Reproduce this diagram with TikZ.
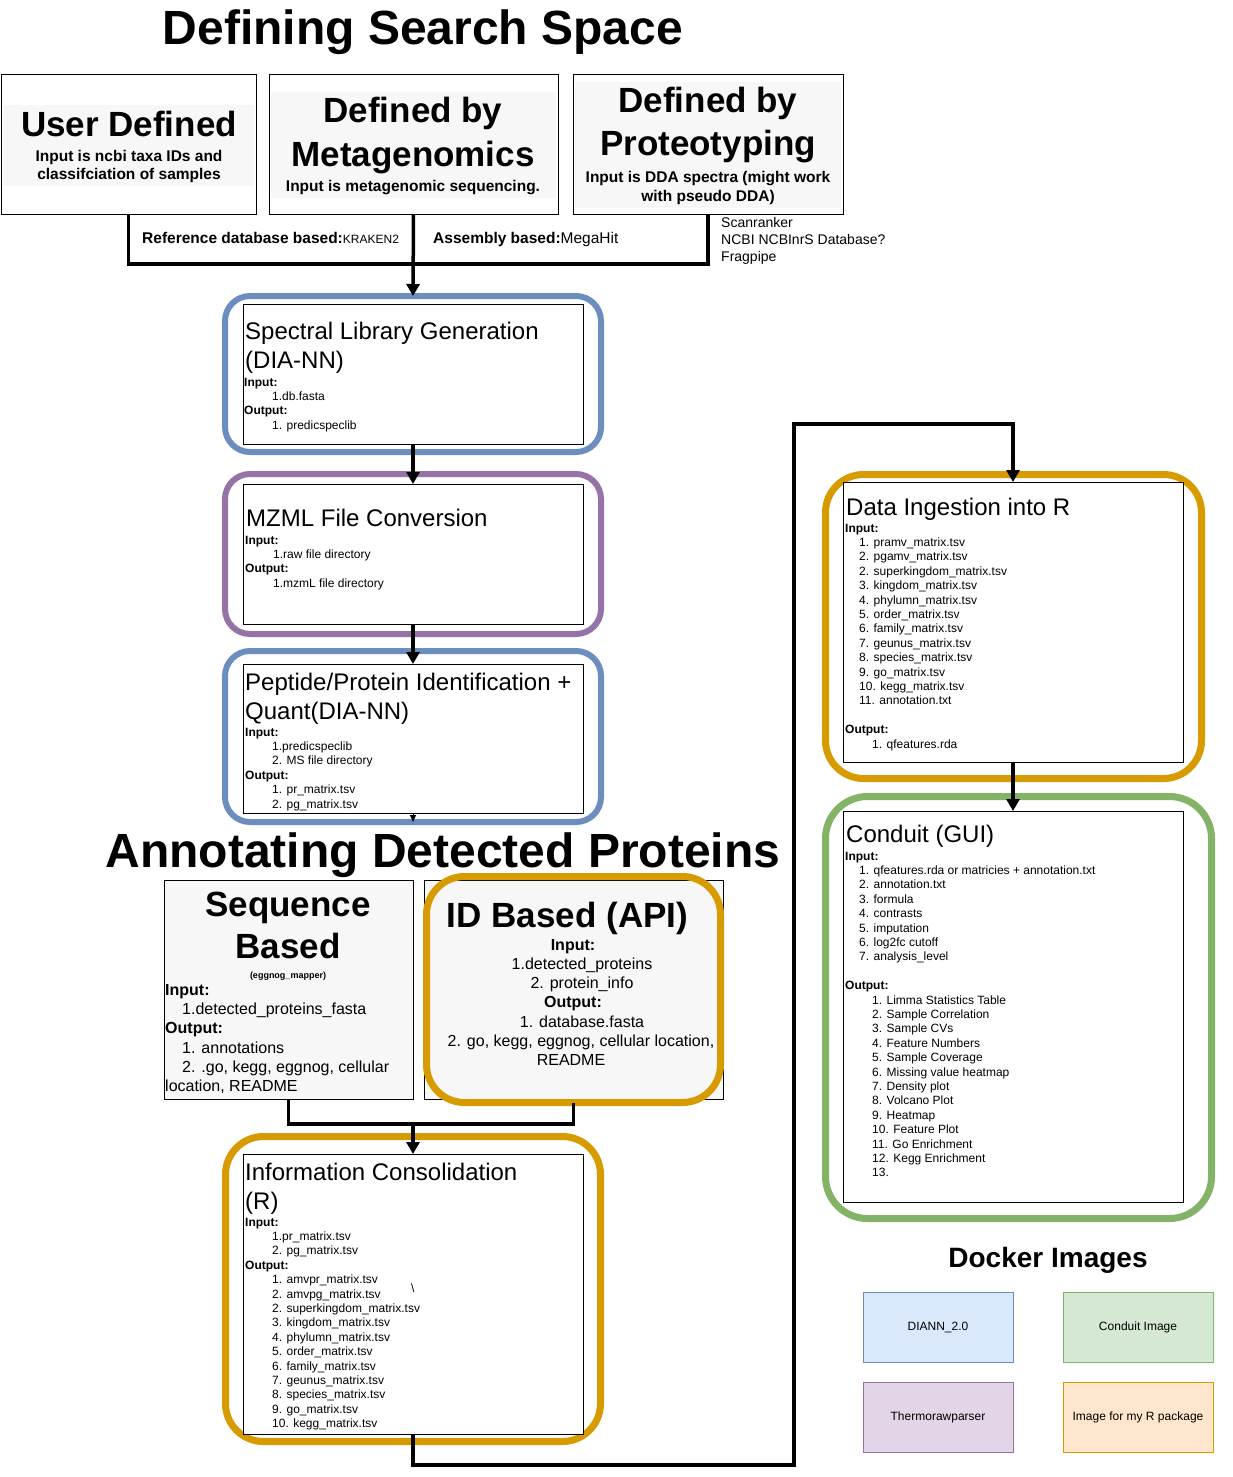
\documentclass[tikz,border=0pt]{standalone}
\usepackage{fontspec}
\setmainfont{Liberation Sans}
\usetikzlibrary{arrows.meta}
\definecolor{cblue}{HTML}{6C8EBF}
\definecolor{cpurple}{HTML}{9673A6}
\definecolor{corange}{HTML}{D79B00}
\definecolor{cgreen}{HTML}{82B366}
\definecolor{fblue}{HTML}{DAE8FC}
\definecolor{fgreen}{HTML}{D5E8D4}
\definecolor{fpurple}{HTML}{E1D5E7}
\definecolor{forange}{HTML}{FFE6CC}
\definecolor{lgray}{HTML}{F7F7F7}
\newcommand\fs[1]{\fontsize{#1}{#1}\selectfont}
% rectangle node from corner coordinates (y positive downwards)
\newcommand\rbox[6]{%
 \pgfmathsetmacro\rw{#5-#3}\pgfmathsetmacro\rh{#6-#4}%
 \pgfmathsetmacro\rcx{(#3+#5)/2}\pgfmathsetmacro\rcy{-(#4+#6)/2}%
 \node[#2, minimum width=\rw pt, minimum height=\rh pt, inner sep=0pt, outer sep=0pt] (#1) at (\rcx,\rcy) {};}
% left aligned lines: name, x, first baseline, step, size, list
\newcommand\tlines[6]{\foreach \myl [count=\ii from 0] in {#6} {\node[anchor=base west, inner sep=0pt, font=\fs{#5}] (#1\ii) at (#2,{-(#3+\ii*#4)}) {\myl};}}
\begin{document}
\begin{tikzpicture}[x=1pt,y=1pt,
  conn/.style={line width=3.5pt, line join=miter},
  arr/.style={conn, -{Triangle[width=13pt,length=12pt]}},
  thinarr/.style={line width=0.8pt, -{Triangle[width=6pt,length=7pt]}},
  thinbox/.style={draw=black, line width=0.8pt, fill=white},
  graybox/.style={draw=black, line width=0.8pt, fill=lgray},
  bigtitle/.style={anchor=base, inner sep=0pt, font=\fs{48}\bfseries},
  hdr/.style={anchor=base, inner sep=0pt, font=\fs{35}\bfseries},
  sub/.style={anchor=base, inner sep=0pt, font=\fs{15.5}\bfseries},
  ttl/.style={anchor=base west, inner sep=0pt, font=\fs{24}},
  note/.style={anchor=base west, inner sep=0pt, font=\fs{14}},
  dock/.style={line width=1pt},
  dtext/.style={font=\fs{12}}
]
\useasboundingbox (0,0) rectangle (1233,-1477);
\fill[white] (0,0) rectangle (1233,-1477);

% ---------------- Defining search space ----------------
\node[bigtitle] (title1) at (423,-45) {Defining Search Space};

\rbox{user}{thinbox}{1}{74}{256}{214}
\rbox{userbg}{fill=lgray}{3}{105}{254}{186}
\node[hdr] (userh) at (129,-136) {User Defined};
\node[sub] (users1) at (129,-161.5) {Input is ncbi taxa IDs and};
\node[sub] (users2) at (129,-179.5) {classifciation of samples};

\rbox{meta}{thinbox}{269}{74}{558}{214}
\rbox{metabg}{fill=lgray}{271}{92}{556}{198}
\node[hdr] (metah1) at (413,-123) {Defined by};
\node[hdr] (metah2) at (413,-166) {Metagenomics};
\node[sub] (metas) at (413,-191.5) {Input is metagenomic sequencing.};

\rbox{proto}{thinbox}{573}{74}{843}{214}
\rbox{protobg}{fill=lgray}{575}{82}{841}{208}
\node[hdr] (protoh1) at (708,-113) {Defined by};
\node[hdr] (protoh2) at (708,-155) {Proteotyping};
\node[sub] (protos1) at (708,-182.5) {Input is DDA spectra (might work};
\node[sub] (protos2) at (708,-201.5) {with pseudo DDA)};

\node[note] (n1) at (721,-227) {Scanranker};
\node[note] (n2) at (721,-244) {NCBI NCBInrS Database?};
\node[note] (n3) at (721,-261) {Fragpipe};

\node[anchor=base west, inner sep=0pt, font=\fs{15.5}\bfseries] (lab1) at (142,-243.5) {Reference database based:{\mdseries\fs{12}KRAKEN2}};
\node[anchor=base west, inner sep=0pt, font=\fs{15.5}\bfseries] (lab2) at (433,-243.5) {Assembly based:{\mdseries MegaHit}};

% ---------------- Spectral library ----------------
\rbox{slibo}{draw=cblue, line width=6pt, rounded corners=25pt}{225}{296}{601}{452}
\rbox{slib}{thinbox}{243}{304}{583}{444}
\tlines{slibt}{245}{339.5}{28.5}{24}{Spectral Library Generation,(DIA-NN)}
\tlines{slibl}{244}{386}{14.4}{12}{\textbf{Input:},\hspace*{28pt}1.db.fasta,\textbf{Output:},\hspace*{28pt}1. predicspeclib}

% ---------------- MZML ----------------
\rbox{mzmlo}{draw=cpurple, line width=6pt, rounded corners=25pt}{225}{474}{601}{634}
\rbox{mzml}{thinbox}{243}{484}{583}{624}
\tlines{mzmlt}{246}{526.5}{28.5}{24}{MZML File Conversion}
\tlines{mzmll}{245}{544}{14.4}{12}{\textbf{Input:},\hspace*{28pt}1.raw file directory,\textbf{Output:},\hspace*{28pt}1.mzmL file directory}

% ---------------- Peptide ----------------
\rbox{pepo}{draw=cblue, line width=6pt, rounded corners=25pt}{225}{651}{601}{822}
\rbox{pep}{thinbox}{243}{664}{583}{813}
\tlines{pept}{245}{690.5}{28.5}{24}{Peptide/Protein Identification +,Quant(DIA-NN)}
\tlines{pepl}{245}{736}{14.4}{12}{\textbf{Input:},\hspace*{27pt}1.predicspeclib,\hspace*{27pt}2. MS file directory,\textbf{Output:},\hspace*{27pt}1. pr\_matrix.tsv,\hspace*{27pt}2. pg\_matrix.tsv}

% ---------------- Annotating ----------------
\node[bigtitle] (title2) at (443,-867) {Annotating Detected Proteins};

\rbox{seq}{graybox}{164}{880}{413}{1099}
\node[hdr] (seqh1) at (288,-916) {Sequence};
\node[hdr] (seqh2) at (288,-958) {Based};
\node[anchor=base, inner sep=0pt, font=\fs{9}\bfseries] (seqs) at (288,-978) {(eggnog\_mapper)};
\tlines{seql}{165}{995.5}{19.2}{16}{\textbf{Input:},\hspace*{17pt}1.detected\_proteins\_fasta,\textbf{Output:},\hspace*{17pt}1. annotations,{\hspace*{17pt}2. .go, kegg, eggnog, cellular},{location, README}}

\rbox{idb}{graybox}{424}{880}{723}{1099}
\rbox{idbo}{draw=corange, line width=7pt, rounded corners=38pt}{426.5}{876.5}{720.5}{1102.5}
\node[hdr] (idbh) at (567.5,-927.5) {ID Based (API)};
\node[anchor=base, inner sep=0pt, font=\fs{16}\bfseries] (idb1) at (573,-950.5) {Input:};
\node[anchor=base, inner sep=0pt, font=\fs{16}] (idb2) at (582,-969.5) {1.detected\_proteins};
\node[anchor=base, inner sep=0pt, font=\fs{16}] (idb3) at (582,-988.5) {2. protein\_info};
\node[anchor=base, inner sep=0pt, font=\fs{16}\bfseries] (idb4) at (573,-1007.5) {Output:};
\node[anchor=base, inner sep=0pt, font=\fs{16}] (idb5) at (582,-1027.5) {1. database.fasta};
\node[anchor=base, inner sep=0pt, font=\fs{16}] (idb6) at (581,-1046.5) {2. go, kegg, eggnog, cellular location,};
\node[anchor=base, inner sep=0pt, font=\fs{16}] (idb7) at (571,-1065.5) {README};

% ---------------- Information consolidation ----------------
\rbox{infoo}{draw=corange, line width=7pt, rounded corners=38pt}{225.5}{1136.5}{600.5}{1441.5}
\rbox{info}{thinbox}{243}{1154}{583}{1434}
\tlines{infot}{245}{1180.5}{28.5}{24}{Information Consolidation,(R)}
\tlines{infol}{245}{1226}{14.4}{12}{\textbf{Input:},\hspace*{27pt}1.pr\_matrix.tsv,\hspace*{27pt}2. pg\_matrix.tsv,\textbf{Output:},\hspace*{27pt}1. amvpr\_matrix.tsv,\hspace*{27pt}2. amvpg\_matrix.tsv,\hspace*{27pt}2. superkingdom\_matrix.tsv,\hspace*{27pt}3. kingdom\_matrix.tsv,\hspace*{27pt}4. phylumn\_matrix.tsv,\hspace*{27pt}5. order\_matrix.tsv,\hspace*{27pt}6. family\_matrix.tsv,\hspace*{27pt}7. geunus\_matrix.tsv,\hspace*{27pt}8. species\_matrix.tsv,\hspace*{27pt}9. go\_matrix.tsv,\hspace*{27pt}10. kegg\_matrix.tsv}
\node[anchor=base west, inner sep=0pt, font=\fs{12}] (stray) at (411,-1292) {\textbackslash};

% ---------------- Data ingestion ----------------
\rbox{datao}{draw=corange, line width=7pt, rounded corners=38pt}{825.5}{474.5}{1201.5}{778.5}
\rbox{data}{thinbox}{843}{482}{1183}{762}
\tlines{datat}{846}{515.5}{28.5}{24}{Data Ingestion into R}
\tlines{datal}{845}{532}{14.4}{12}{\textbf{Input:},\hspace*{14pt}1. pramv\_matrix.tsv,\hspace*{14pt}2. pgamv\_matrix.tsv,\hspace*{14pt}2. superkingdom\_matrix.tsv,\hspace*{14pt}3. kingdom\_matrix.tsv,\hspace*{14pt}4. phylumn\_matrix.tsv,\hspace*{14pt}5. order\_matrix.tsv,\hspace*{14pt}6. family\_matrix.tsv,\hspace*{14pt}7. geunus\_matrix.tsv,\hspace*{14pt}8. species\_matrix.tsv,\hspace*{14pt}9. go\_matrix.tsv,\hspace*{14pt}10. kegg\_matrix.tsv,\hspace*{14pt}11. annotation.txt,{},\textbf{Output:},\hspace*{27pt}1. qfeatures.rda}

% ---------------- Conduit ----------------
\rbox{condo}{draw=cgreen, line width=7pt, rounded corners=42pt}{825.5}{796.5}{1211.5}{1218.5}
\rbox{cond}{thinbox}{843}{811}{1183}{1202}
\tlines{condt}{846}{842.5}{28.5}{24}{Conduit (GUI)}
\tlines{condl}{845}{860}{14.4}{12}{\textbf{Input:},\hspace*{14pt}1. qfeatures.rda or matricies + annotation.txt,\hspace*{14pt}2. annotation.txt,\hspace*{14pt}3. formula,\hspace*{14pt}4. contrasts,\hspace*{14pt}5. imputation,\hspace*{14pt}6. log2fc cutoff,\hspace*{14pt}7. analysis\_level,{},\textbf{Output:},\hspace*{27pt}1. Limma Statistics Table,\hspace*{27pt}2. Sample Correlation,\hspace*{27pt}3. Sample CVs,\hspace*{27pt}4. Feature Numbers,\hspace*{27pt}5. Sample Coverage,\hspace*{27pt}6. Missing value heatmap,\hspace*{27pt}7. Density plot,\hspace*{27pt}8. Volcano Plot,\hspace*{27pt}9. Heatmap,\hspace*{27pt}10. Feature Plot,\hspace*{27pt}11. Go Enrichment,\hspace*{27pt}12. Kegg Enrichment,\hspace*{27pt}13.}

% ---------------- Docker images ----------------
\node[anchor=base, inner sep=0pt, font=\fs{28}\bfseries] (title3) at (1048,-1267) {Docker Images};
\rbox{dk1}{dock, draw=cblue, fill=fblue}{863}{1292}{1013}{1362}
\rbox{dk2}{dock, draw=cgreen, fill=fgreen}{1063}{1292}{1213}{1362}
\rbox{dk3}{dock, draw=cpurple, fill=fpurple}{863}{1382}{1013}{1452}
\rbox{dk4}{dock, draw=corange, fill=forange}{1063}{1382}{1213}{1452}
\node[dtext] (dk1t) at (dk1) {DIANN\_2.0};
\node[dtext] (dk2t) at (dk2) {Conduit Image};
\node[dtext] (dk3t) at (dk3) {Thermorawparser};
\node[dtext] (dk4t) at (dk4) {Image for my R package};

% ---------------- Connectors ----------------
\coordinate (bar) at (0,-264);
\draw[conn] (user.south) -- (user.south |- bar) -| (proto.south);
\draw[arr] (meta.south) -- (slibo.north);
\draw[arr] (slib.south) -- (mzml.north);
\draw[arr] (mzml.south) -- (pep.north);
\draw[thinarr] (pep.south) -- (pepo.south);
\coordinate (j2) at (413,-1124);
\draw[conn] (seq.south) -- (seq.south |- j2) -| (idbo.south);
\draw[arr] (j2) -- (info.north);
\coordinate (b1) at (794,-1465);
\coordinate (b2) at (794,-424);
\draw[arr] (info.south) |- (b1) -- (b2) -| (data.north);
\draw[arr] (data.south) -- (cond.north);
\end{tikzpicture}
\end{document}
